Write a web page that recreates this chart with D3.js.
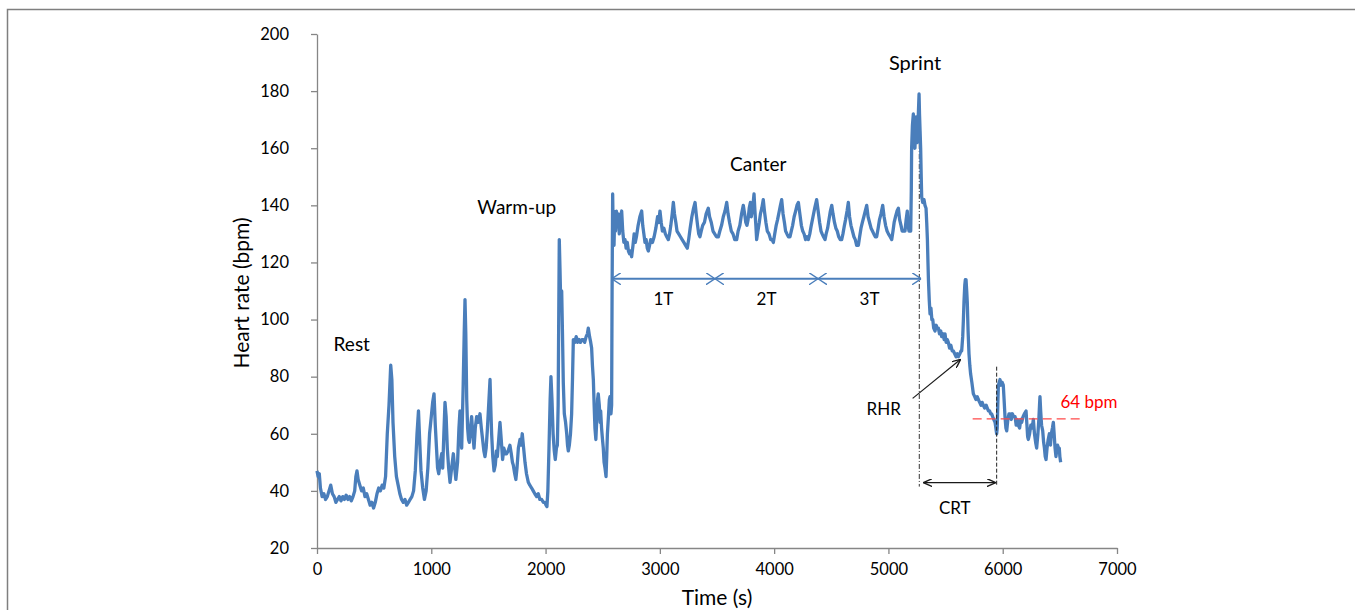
<!DOCTYPE html>
<html>
<head>
<meta charset="utf-8">
<script src="https://cdn.jsdelivr.net/npm/d3@7"></script>
<style>
  body { margin: 0; background: #fff; }
  svg { display: block; font-family: Lato, "Open Sans", sans-serif; }
  .axis path, .axis line { stroke: #868686; stroke-width: 1.3; }
  .axis text { fill: #000; font-size: 16.5px; font-family: Lato, sans-serif; }
</style>
</head>
<body>
<svg width="1355" height="610"></svg>
<script>

// heart rate trace, [time (s), bpm]
var heartRate = [
  [0,47],[10,45],[20,46],[30,41],[45,38],[60,39],[75,37],[90,38],[105,40],[120,42],[135,39],[150,38],[165,36],
  [180,37],[195,38],[210,36.5],[225,38],[240,37],[255,38.5],[270,37],[285,38],[300,36.5],[315,38],[330,40],
  [340,45],[350,47],[360,44],[375,42],[390,40],[405,41],[420,38],[435,39],[450,37],[465,35],[480,36],[495,34],
  [510,36],[525,39],[540,41],[555,40],[570,42],[585,41],[600,45],[615,60],[630,70],[645,84],[655,79],[665,64],
  [680,52],[695,45],[710,42],[725,39],[740,37],[755,36],[770,37],[785,35],[800,36],[815,37],[830,38],[845,40],
  [860,47],[875,60],[888,68],[898,58],[910,47],[925,41],[940,37],[955,40],[970,48],[985,60],[1000,66],[1012,71],
  [1024,74],[1035,63],[1047,54],[1055,48],[1065,46],[1078,50],[1091,53],[1100,48],[1110,60],[1120,71],[1130,66],
  [1140,55],[1152,48],[1164,43],[1178,48],[1193,53],[1205,48],[1215,44],[1230,50],[1242,62],[1251,68],[1258,60],
  [1266,55],[1278,75],[1288,95],[1295,107],[1302,95],[1310,72],[1318,62],[1326,58],[1333,57],[1343,62],[1353,66],
  [1363,60],[1374,55],[1385,62],[1397,66],[1410,64],[1426,67],[1438,62],[1449,58],[1460,54],[1470,52],[1480,55],
  [1490,61],[1502,70],[1514,79],[1520,70],[1528,60],[1538,52],[1549,47],[1560,49],[1570,54],[1578,52],[1590,58],
  [1601,64],[1612,58],[1624,51],[1635,55],[1648,53],[1659,53],[1672,54],[1688,56],[1700,53],[1710,50],[1718,49],
  [1730,46],[1740,44],[1750,48],[1762,55],[1776,58],[1786,56],[1796,60],[1808,55],[1820,50],[1833,46],[1849,43],
  [1862,42],[1878,41],[1892,40],[1906,39],[1922,38],[1936,39],[1950,37],[1966,37],[1980,36],[1994,36],[2004,35],
  [2012,34.5],[2020,40],[2030,55],[2040,72],[2047,80],[2056,72],[2066,60],[2076,54],[2085,51],[2095,55],[2103,56],
  [2110,70],[2115,100],[2120,128],[2126,118],[2133,105],[2141,110],[2148,95],[2155,78],[2164,67],[2175,64],
  [2185,60],[2192,56],[2199,54],[2208,56],[2218,60],[2228,67],[2236,80],[2243,93],[2255,92],[2268,94],[2280,92],
  [2292,93],[2305,92],[2318,93],[2330,93],[2342,92],[2355,94],[2366,95],[2374,97],[2385,94],[2395,92],[2403,90],
  [2410,84],[2418,79],[2425,70],[2432,62],[2440,58],[2448,65],[2455,72],[2461,74],[2470,70],[2478,64],[2482,68],
  [2490,62],[2498,58],[2505,55],[2512,50],[2520,48],[2529,45],[2535,52],[2541,60],[2550,66],[2558,72],[2564,73],
  [2572,67],[2578,70],[2582,110],[2587,144],[2592,130],[2596,138],[2599,126],[2605,137],[2612,131],[2620,138],
  [2628,133],[2635,137],[2645,130],[2655,136],[2666,138],[2675,131],[2685,127],[2695,128],[2705,125],[2715,127],
  [2725,124],[2735,123],[2745,124],[2753,122],[2765,126],[2775,130],[2785,127],[2795,129],[2810,133],[2825,136],
  [2841,138],[2850,133],[2860,130],[2870,127],[2880,128],[2890,125],[2899,124],[2910,126],[2920,128],[2935,127],
  [2950,129],[2965,132],[2980,136],[2990,134],[3001,138],[3012,134],[3022,131],[3035,132],[3048,130],[3060,129],
  [3074,128],[3085,130],[3096,133],[3108,137],[3118,141],[3128,137],[3140,134],[3150,131],[3165,130],[3180,129],
  [3195,128],[3210,127],[3225,126],[3240,125],[3252,128],[3265,132],[3280,136],[3295,139],[3308,141],[3318,137],
  [3330,133],[3340,130],[3351,129],[3362,131],[3375,133],[3390,134],[3405,137],[3424,139],[3435,136],[3450,134],
  [3465,131],[3480,130],[3495,129],[3512,129],[3525,131],[3540,133],[3555,136],[3570,138],[3585,141],[3597,137],
  [3610,134],[3625,131],[3640,130],[3655,128],[3672,128],[3685,131],[3700,133],[3715,137],[3730,140],[3742,137],
  [3752,134],[3762,133],[3772,135],[3782,139],[3792,141],[3800,136],[3812,139],[3824,144],[3832,138],[3840,133],
  [3847,128],[3858,131],[3870,134],[3880,137],[3892,139],[3905,142],[3915,138],[3928,134],[3940,131],[3955,130],
  [3970,128],[3982,128],[3993,127],[4005,130],[4018,133],[4030,135],[4045,138],[4055,140],[4066,142],[4078,137],
  [4090,134],[4100,131],[4112,130],[4125,129],[4139,129],[4150,131],[4162,133],[4175,136],[4188,138],[4200,140],
  [4212,141],[4225,137],[4238,133],[4250,131],[4262,130],[4275,128],[4288,129],[4299,128],[4312,130],[4325,133],
  [4340,136],[4355,139],[4372,142],[4385,138],[4398,134],[4410,131],[4420,130],[4432,129],[4445,128],[4455,130],
  [4468,132],[4480,135],[4492,138],[4504,140],[4515,137],[4528,134],[4540,132],[4552,131],[4565,129],[4578,128],
  [4591,128],[4602,130],[4615,133],[4625,135],[4638,138],[4649,141],[4660,136],[4672,133],[4685,131],[4698,129],
  [4710,128],[4722,126],[4737,126],[4748,129],[4760,132],[4772,134],[4785,136],[4797,138],[4810,140],[4822,136],
  [4835,134],[4848,132],[4860,131],[4872,130],[4885,129],[4897,129],[4910,132],[4922,135],[4935,137],[4950,140],
  [4962,136],[4975,133],[4988,131],[5000,130],[5015,129],[5029,128],[5040,131],[5050,134],[5062,136],[5075,138],
  [5087,139],[5098,135],[5110,133],[5120,131],[5132,131],[5145,131],[5155,135],[5165,138],[5172,133],[5180,131],
  [5188,134],[5195,131],[5200,145],[5203,160],[5210,168],[5218,172],[5225,163],[5232,160],[5241,171],[5248,165],
  [5253,162],[5260,170],[5268,179],[5272,172],[5277,166],[5282,160],[5287,150],[5291,143],[5300,141],[5311,142],
  [5320,140],[5329,139],[5335,134],[5341,128],[5346,120],[5350,114],[5357,107],[5364,102],[5372,104],[5380,100],
  [5388,100],[5396,97],[5408,96],[5418,98],[5428,97],[5437,97],[5447,95],[5458,96],[5466,94],[5477,95],[5488,93],
  [5495,95],[5505,92],[5515,93],[5524,92],[5535,90],[5546,91],[5558,89],[5568,89],[5580,88],[5592,87],[5603,88],
  [5612,87],[5625,88],[5635,89],[5641,89],[5650,94],[5656,100],[5661,106],[5668,112],[5673,114],[5679,114],
  [5685,110],[5690,106],[5697,96],[5705,88],[5712,84],[5719,81],[5730,78],[5743,74],[5755,73],[5765,72],[5777,73],
  [5787,72],[5798,71],[5810,70],[5820,71],[5830,70],[5842,69],[5855,70],[5865,69],[5875,68],[5885,68],[5895,67],
  [5903,67],[5912,66],[5922,65],[5933,64],[5940,62],[5947,60],[5952,62],[5957,70],[5962,77],[5970,78],[5976,79],
  [5985,77],[5995,78],[6005,77],[6012,72],[6020,66],[6028,62],[6035,61],[6045,65],[6055,67],[6064,67],[6075,65],
  [6085,67],[6095,66],[6108,66],[6118,63],[6128,65],[6137,63],[6148,62],[6158,65],[6166,64],[6178,66],[6190,67],
  [6204,68],[6212,63],[6218,59],[6224,58],[6235,60],[6246,63],[6258,62],[6268,65],[6278,60],[6288,57],[6297,55],
  [6308,60],[6316,65],[6322,70],[6326,73],[6332,68],[6340,63],[6350,61],[6358,57],[6365,55],[6372,52],[6379,51],
  [6388,55],[6398,58],[6408,60],[6418,56],[6425,60],[6435,62],[6443,64],[6450,60],[6458,55],[6466,52],[6472,54],
  [6480,56],[6488,55],[6495,55],[6500,52],[6507,50]
];

var xTicks = [0, 1000, 2000, 3000, 4000, 5000, 6000, 7000];
var yTicks = [20, 40, 60, 80, 100, 120, 140, 160, 180, 200];

// phase labels: [text, time, bpm at baseline]
var phases = [
  ["Rest", 304, 89],
  ["Warm-up", 1748, 137],
  ["Canter", 3861, 152],
  ["Sprint", 5233, 187.5]
];

// canter split into three equal thirds (boundaries in s), drawn at this bpm
var thirdBounds = [2580, 3482, 4384, 5286];
var thirdNames = ["1T", "2T", "3T"];
var thirdLevel = 114.3;

// recovery annotations
var sprintEnd = 5270, sprintPeak = 179;
var crtEnd = 5947, crtTop = 83.5, markerBottom = 41.5;
var crtArrow = [5306, 5940], crtLevel = 42.9;
var rhrArrow = [[5212, 72.4], [5632, 86.1]];
var restLine = { value: 65.2, from: 5737, to: 6715, label: "64 bpm" };

var svg = d3.select("svg"),
    width = +svg.attr("width"),
    height = +svg.attr("height");

var x = d3.scaleLinear().domain([0, 7000]).range([317, 1117]);
var y = d3.scaleLinear().domain([20, 200]).range([548, 34]);

// outer frame
svg.append("rect")
    .attr("x", 7.5).attr("y", 9.5)
    .attr("width", width + 20).attr("height", height + 20)
    .attr("fill", "none")
    .attr("stroke", "#7f7f7f")
    .attr("stroke-width", 1.5);

var defs = svg.append("defs");
function chevron(id, color, w, h) {
    defs.append("marker")
        .attr("id", id)
        .attr("viewBox", "0 0 " + w + " " + h * 2)
        .attr("refX", w).attr("refY", h)
        .attr("markerWidth", w).attr("markerHeight", h * 2)
        .attr("markerUnits", "userSpaceOnUse")
        .attr("orient", "auto-start-reverse")
        .append("path")
        .attr("d", "M0,0 L" + w + "," + h + " L0," + (h * 2))
        .attr("fill", "none")
        .attr("stroke", color)
        .attr("stroke-width", 1.4);
}
chevron("blueHead", "#4a7ebb", 9, 6);
chevron("blackHead", "#1a1a1a", 9, 4);

// axes
svg.append("g")
    .attr("class", "axis")
    .attr("transform", "translate(0," + y(20) + ")")
    .call(d3.axisBottom(x).tickValues(xTicks).tickSize(6).tickSizeOuter(0).tickPadding(9).tickFormat(d3.format("d")))
    .call(function (g) { g.selectAll("text").attr("font-family", null).attr("font-size", null); });

svg.append("g")
    .attr("class", "axis")
    .attr("transform", "translate(" + x(0) + ",0)")
    .call(d3.axisLeft(y).tickValues(yTicks).tickSize(6).tickSizeOuter(0).tickPadding(22))
    .call(function (g) { g.selectAll("text").attr("font-family", null).attr("font-size", null); });

svg.append("text")
    .attr("x", (x(0) + x(7000)) / 2)
    .attr("y", 605)
    .attr("text-anchor", "middle")
    .attr("font-size", "21px")
    .text("Time (s)");

svg.append("text")
    .attr("transform", "translate(249," + ((y(20) + y(200)) / 2 + 2) + ") rotate(-90)")
    .attr("text-anchor", "middle")
    .attr("font-size", "21px")
    .text("Heart rate (bpm)");

// reference lines behind the trace
svg.append("line")
    .attr("x1", x(sprintEnd)).attr("x2", x(sprintEnd))
    .attr("y1", y(sprintPeak)).attr("y2", y(markerBottom))
    .attr("stroke", "#333")
    .attr("stroke-width", 1)
    .attr("stroke-dasharray", "5,2,1,2");

// trace
var line = d3.line()
    .x(function (d) { return x(d[0]); })
    .y(function (d) { return y(d[1]); });

svg.append("path")
    .datum(heartRate)
    .attr("fill", "none")
    .attr("stroke", "#4a7ebb")
    .attr("stroke-width", 3.3)
    .attr("stroke-linejoin", "round")
    .attr("d", line);

svg.append("line")
    .attr("x1", x(crtEnd)).attr("x2", x(crtEnd))
    .attr("y1", y(crtTop)).attr("y2", y(markerBottom))
    .attr("stroke", "#222")
    .attr("stroke-width", 1)
    .attr("stroke-dasharray", "4,2");

svg.append("line")
    .attr("x1", x(restLine.from)).attr("x2", x(restLine.to))
    .attr("y1", y(restLine.value)).attr("y2", y(restLine.value))
    .attr("stroke", "#ff4a4a")
    .attr("stroke-width", 1.3)
    .attr("stroke-dasharray", "9,5");

svg.append("text")
    .attr("x", x(6755)).attr("y", y(68.9))
    .attr("text-anchor", "middle")
    .attr("font-size", "17px")
    .attr("fill", "#ff0000")
    .text(restLine.label);

// canter thirds
var thirds = d3.range(thirdNames.length).map(function (i) {
    return { name: thirdNames[i], a: thirdBounds[i], b: thirdBounds[i + 1] };
});

svg.append("g").selectAll("line")
    .data(thirds)
    .enter().append("line")
    .attr("x1", function (d) { return x(d.a); })
    .attr("x2", function (d) { return x(d.b); })
    .attr("y1", y(thirdLevel)).attr("y2", y(thirdLevel))
    .attr("stroke", "#4a7ebb")
    .attr("stroke-width", 2)
    .attr("marker-start", "url(#blueHead)")
    .attr("marker-end", "url(#blueHead)");

svg.append("g").selectAll("text")
    .data(thirds)
    .enter().append("text")
    .attr("x", function (d) { return x((d.a + d.b) / 2); })
    .attr("y", y(thirdLevel) + 26)
    .attr("text-anchor", "middle")
    .attr("font-size", "17px")
    .text(function (d) { return d.name; });

// CRT arrow
svg.append("line")
    .attr("x1", x(crtArrow[0])).attr("x2", x(crtArrow[1]))
    .attr("y1", y(crtLevel)).attr("y2", y(crtLevel))
    .attr("stroke", "#1a1a1a")
    .attr("stroke-width", 1.2)
    .attr("marker-start", "url(#blackHead)")
    .attr("marker-end", "url(#blackHead)");

svg.append("text")
    .attr("x", x(5581)).attr("y", y(31.8))
    .attr("text-anchor", "middle")
    .attr("font-size", "17px")
    .text("CRT");

// RHR arrow
svg.append("line")
    .attr("x1", x(rhrArrow[0][0])).attr("y1", y(rhrArrow[0][1]))
    .attr("x2", x(rhrArrow[1][0])).attr("y2", y(rhrArrow[1][1]))
    .attr("stroke", "#1a1a1a")
    .attr("stroke-width", 1.2)
    .attr("marker-end", "url(#blackHead)");

svg.append("text")
    .attr("x", x(4959)).attr("y", y(66.6))
    .attr("text-anchor", "middle")
    .attr("font-size", "17px")
    .text("RHR");

// phase labels
svg.append("g").selectAll("text")
    .data(phases)
    .enter().append("text")
    .attr("x", function (d) { return x(d[1]); })
    .attr("y", function (d) { return y(d[2]); })
    .attr("text-anchor", "middle")
    .attr("font-size", function (d) { return d[0] === "Sprint" ? "20px" : "19px"; })
    .text(function (d) { return d[0]; });

</script>
</body>
</html>
